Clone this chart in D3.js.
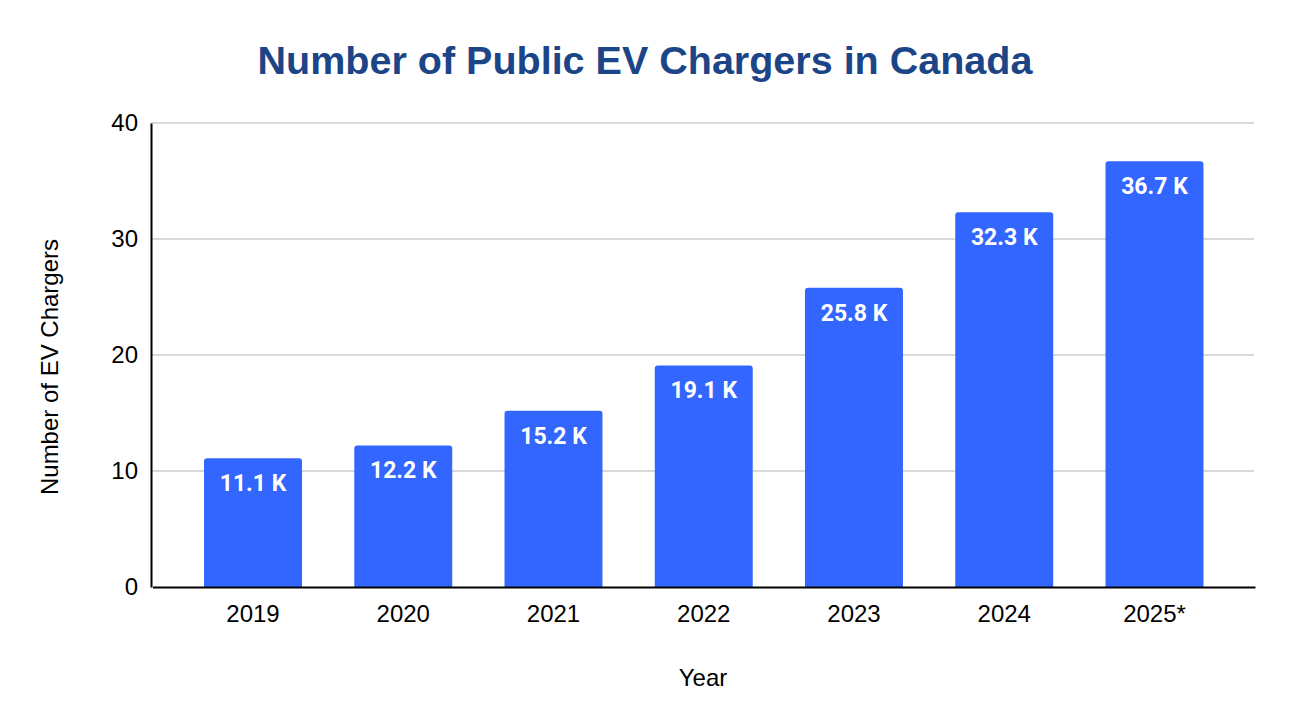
<!DOCTYPE html>
<html>
<head>
<meta charset="utf-8">
<script src="https://cdn.jsdelivr.net/npm/d3@7"></script>
<style>
  body { margin: 0; background: #fff; }
  text { font-family: "Liberation Sans", Arial, sans-serif; }
</style>
</head>
<body>
<svg id="chart"></svg>
<script>
const years = ['2019', '2020', '2021', '2022', '2023', '2024', '2025*'];
const chargers = [11.1, 12.2, 15.2, 19.1, 25.8, 32.3, 36.7];
const valueLabels = ['11.1 K', '12.2 K', '15.2 K', '19.1 K', '25.8 K', '32.3 K', '36.7 K'];
const yTicks = [0, 10, 20, 30, 40];

const svgWidth = 1292;
const svgHeight = 728;

const svg = d3.select('#chart')
    .attr('width', svgWidth)
    .attr('height', svgHeight);

svg.append('rect')
    .attr('width', svgWidth)
    .attr('height', svgHeight)
    .attr('fill', '#ffffff');

const xScale = d3.scaleBand()
    .domain(years)
    .range([152.5, 1255])
    .paddingInner(0.348)
    .paddingOuter(0.343);

const yScale = d3.scaleLinear()
    .domain([0, 40])
    .range([587, 123]);

// gridlines
svg.append('g')
    .selectAll('line')
    .data(yTicks.filter(d => d > 0))
    .enter()
    .append('line')
    .attr('x1', 151)
    .attr('x2', 1254)
    .attr('y1', d => yScale(d))
    .attr('y2', d => yScale(d))
    .attr('stroke', '#cccccc')
    .attr('stroke-width', 1.5);

// bars, rounded top only
const r = 3;
svg.append('g')
    .selectAll('path')
    .data(chargers)
    .enter()
    .append('path')
    .attr('d', (d, i) => {
        const x0 = xScale(years[i]);
        const w = xScale.bandwidth();
        const y0 = yScale(d);
        const yb = yScale(0);
        return `M${x0},${yb} V${y0 + r} Q${x0},${y0} ${x0 + r},${y0} H${x0 + w - r} Q${x0 + w},${y0} ${x0 + w},${y0 + r} V${yb} Z`;
    })
    .attr('fill', '#3366ff');

// value labels
svg.append('g')
    .selectAll('text')
    .data(chargers)
    .enter()
    .append('text')
    .text((d, i) => valueLabels[i])
    .attr('x', (d, i) => xScale(years[i]) + xScale.bandwidth() / 2)
    .attr('y', d => yScale(d) + 33)
    .attr('text-anchor', 'middle')
    .attr('fill', '#ffffff')
    .style('font-family', 'Roboto, sans-serif')
    .style('font-weight', 'bold')
    .style('font-size', '23px');

// axes
const xAxis = svg.append('g')
    .attr('transform', `translate(0,${yScale(0)})`)
    .call(d3.axisBottom(xScale).tickSize(0).tickPadding(18));
xAxis.select('.domain').attr('stroke', '#000').attr('stroke-width', 2);
xAxis.selectAll('text')
    .attr('fill', '#000')
    .style('font-family', '"Liberation Sans", Arial, sans-serif')
    .style('font-size', '24px');

const yAxis = svg.append('g')
    .attr('transform', `translate(151,0)`)
    .call(d3.axisLeft(yScale).tickValues(yTicks).tickSize(0).tickPadding(13));
yAxis.select('.domain').attr('stroke', '#000').attr('stroke-width', 2);
yAxis.selectAll('text')
    .attr('fill', '#000')
    .style('font-family', '"Liberation Sans", Arial, sans-serif')
    .style('font-size', '24px');

// title
svg.append('text')
    .text('Number of Public EV Chargers in Canada')
    .attr('x', 645)
    .attr('y', 74)
    .attr('text-anchor', 'middle')
    .attr('fill', '#1c4587')
    .style('font-weight', 'bold')
    .style('font-size', '39.5px');

// axis titles
svg.append('text')
    .text('Year')
    .attr('x', 703)
    .attr('y', 686)
    .attr('text-anchor', 'middle')
    .attr('fill', '#000')
    .style('font-size', '24px');

svg.append('text')
    .text('Number of EV Chargers')
    .attr('transform', 'translate(58,367) rotate(-90)')
    .attr('text-anchor', 'middle')
    .attr('fill', '#000')
    .style('font-size', '24px');
</script>
</body>
</html>
